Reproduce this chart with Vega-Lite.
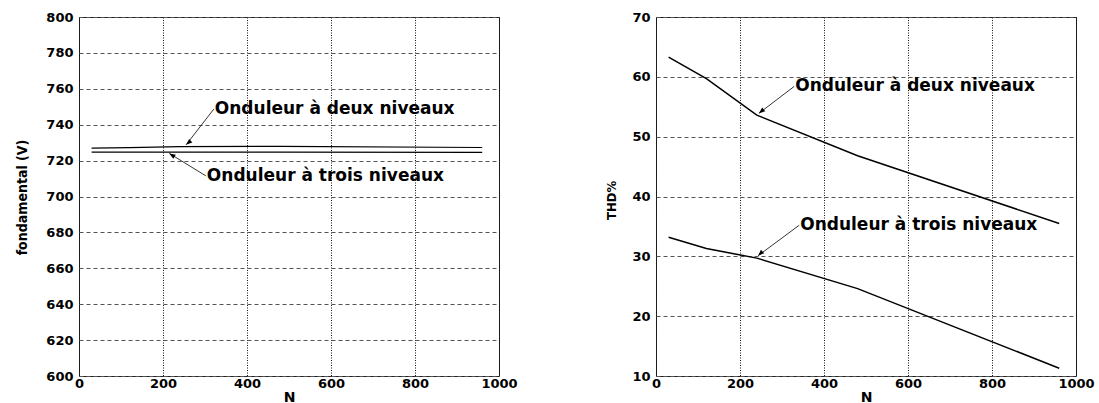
{
  "$schema": "https://vega.github.io/schema/vega-lite/v6.json",
  "background": "white",
  "padding": {"left": 14, "top": 10, "right": 0, "bottom": 0},
  "bounds": "flush",
  "spacing": 157,
  "datasets": {
    "fond": [
      {"serie": "deux", "N": 30, "V": 726.9},
      {"serie": "deux", "N": 120, "V": 727.2},
      {"serie": "deux", "N": 240, "V": 727.8},
      {"serie": "deux", "N": 480, "V": 727.9},
      {"serie": "deux", "N": 960, "V": 727.3},
      {"serie": "trois", "N": 30, "V": 724.7},
      {"serie": "trois", "N": 120, "V": 724.7},
      {"serie": "trois", "N": 240, "V": 724.7},
      {"serie": "trois", "N": 480, "V": 724.7},
      {"serie": "trois", "N": 960, "V": 724.6}
    ],
    "thd": [
      {"serie": "deux", "N": 30, "V": 63.3},
      {"serie": "deux", "N": 120, "V": 59.7},
      {"serie": "deux", "N": 240, "V": 53.6},
      {"serie": "deux", "N": 480, "V": 46.8},
      {"serie": "deux", "N": 960, "V": 35.5},
      {"serie": "trois", "N": 30, "V": 33.2},
      {"serie": "trois", "N": 120, "V": 31.3},
      {"serie": "trois", "N": 240, "V": 29.7},
      {"serie": "trois", "N": 480, "V": 24.6},
      {"serie": "trois", "N": 960, "V": 11.3}
    ],
    "annL": [
      {"id": "deux", "label": "Onduleur à deux niveaux", "N": 321, "V": 748.7, "N2": 255, "V2": 728.8},
      {"id": "trois", "label": "Onduleur à trois niveaux", "N": 302, "V": 711.5, "N2": 215, "V2": 724.0}
    ],
    "annR": [
      {"id": "deux", "label": "Onduleur à deux niveaux", "N": 329, "V": 58.4, "N2": 245, "V2": 53.9},
      {"id": "trois", "label": "Onduleur à trois niveaux", "N": 341, "V": 35.2, "N2": 243, "V2": 30.1}
    ]
  },
  "config": {
    "view": {"stroke": "#222", "strokeWidth": 1},
    "axis": {
      "labelFont": "DejaVu Sans",
      "labelFontWeight": "bold",
      "labelFontSize": 13,
      "labelColor": "black",
      "labelOverlap": false,
      "labelFlush": false,
      "labelBound": false,
      "ticks": false,
      "domain": false,
      "titleColor": "black",
      "titleFontWeight": "bold"
    },
    "axisX": {
      "labelPadding": 1,
      "titleFont": "DejaVu Sans",
      "titleFontSize": 14,
      "titlePadding": 0,
      "gridColor": "#111",
      "gridDash": [1, 1.5],
      "gridOpacity": 1,
      "gridWidth": 1,
      "format": "d"
    },
    "axisY": {
      "labelPadding": 6,
      "titleFont": "DejaVu Sans Condensed, Liberation Sans",
      "titleBaseline": "middle",
      "titleAlign": "center",
      "gridColor": "#555",
      "gridDash": [4, 3],
      "gridOpacity": 1,
      "gridWidth": 1
    }
  },
  "hconcat": [
    {
      "width": 420,
      "height": 359,
      "layer": [
        {
          "data": {"name": "fond"},
          "mark": {"type": "line", "color": "black", "strokeWidth": 1.2},
          "encoding": {
            "x": {"field": "N", "type": "quantitative", "scale": {"domain": [0, 1000], "nice": false},
                  "axis": {"title": "N", "values": [0, 200, 400, 600, 800, 1000], "tickCount": 6}},
            "y": {"field": "V", "type": "quantitative", "scale": {"domain": [600, 800], "nice": false, "zero": false},
                  "axis": {"title": "fondamental (V)", "titleFontSize": 14, "values": [600, 620, 640, 660, 680, 700, 720, 740, 760, 780, 800], "tickCount": 11, "titleX": -57, "titleY": 180}},
            "detail": {"field": "serie"}
          }
        },
        {
          "data": {"name": "annL"},
          "mark": {"type": "rule", "color": "black", "strokeWidth": 0.8},
          "encoding": {
            "x": {"field": "N", "type": "quantitative"},
            "y": {"field": "V", "type": "quantitative"},
            "x2": {"field": "N2"},
            "y2": {"field": "V2"}
          }
        },
        {
          "data": {"name": "annL"},
          "transform": [{"filter": "datum.id == 'deux'"}],
          "mark": {"type": "point", "shape": "M0,0L-0.5,1.3L0.5,1.3Z", "angle": 229, "filled": true, "size": 90, "color": "black", "opacity": 1},
          "encoding": {
            "x": {"field": "N2", "type": "quantitative"},
            "y": {"field": "V2", "type": "quantitative"}
          }
        },
        {
          "data": {"name": "annL"},
          "transform": [{"filter": "datum.id == 'trois'"}],
          "mark": {"type": "point", "shape": "M0,0L-0.5,1.3L0.5,1.3Z", "angle": 302, "filled": true, "size": 90, "color": "black", "opacity": 1},
          "encoding": {
            "x": {"field": "N2", "type": "quantitative"},
            "y": {"field": "V2", "type": "quantitative"}
          }
        },
        {
          "data": {"name": "annL"},
          "mark": {"type": "text", "align": "left", "baseline": "middle", "dx": 1, "font": "DejaVu Sans", "fontWeight": "bold", "fontSize": 17, "color": "black"},
          "encoding": {
            "x": {"field": "N", "type": "quantitative"},
            "y": {"field": "V", "type": "quantitative"},
            "text": {"field": "label"}
          }
        }
      ]
    },
    {
      "width": 420,
      "height": 359,
      "layer": [
        {
          "data": {"name": "thd"},
          "mark": {"type": "line", "color": "black", "strokeWidth": 1.5},
          "encoding": {
            "x": {"field": "N", "type": "quantitative", "scale": {"domain": [0, 1000], "nice": false},
                  "axis": {"title": "N", "values": [0, 200, 400, 600, 800, 1000], "tickCount": 6}},
            "y": {"field": "V", "type": "quantitative", "scale": {"domain": [10, 70], "nice": false, "zero": false},
                  "axis": {"title": "THD%", "titleFontSize": 13, "values": [10, 20, 30, 40, 50, 60, 70], "tickCount": 7, "titleX": -45, "titleY": 183}},
            "detail": {"field": "serie"}
          }
        },
        {
          "data": {"name": "annR"},
          "mark": {"type": "rule", "color": "black", "strokeWidth": 0.8},
          "encoding": {
            "x": {"field": "N", "type": "quantitative"},
            "y": {"field": "V", "type": "quantitative"},
            "x2": {"field": "N2"},
            "y2": {"field": "V2"}
          }
        },
        {
          "data": {"name": "annR"},
          "transform": [{"filter": "datum.id == 'deux'"}],
          "mark": {"type": "point", "shape": "M0,0L-0.5,1.3L0.5,1.3Z", "angle": 231, "filled": true, "size": 90, "color": "black", "opacity": 1},
          "encoding": {
            "x": {"field": "N2", "type": "quantitative"},
            "y": {"field": "V2", "type": "quantitative"}
          }
        },
        {
          "data": {"name": "annR"},
          "transform": [{"filter": "datum.id == 'trois'"}],
          "mark": {"type": "point", "shape": "M0,0L-0.5,1.3L0.5,1.3Z", "angle": 227, "filled": true, "size": 90, "color": "black", "opacity": 1},
          "encoding": {
            "x": {"field": "N2", "type": "quantitative"},
            "y": {"field": "V2", "type": "quantitative"}
          }
        },
        {
          "data": {"name": "annR"},
          "mark": {"type": "text", "align": "left", "baseline": "middle", "dx": 1, "font": "DejaVu Sans", "fontWeight": "bold", "fontSize": 17, "color": "black"},
          "encoding": {
            "x": {"field": "N", "type": "quantitative"},
            "y": {"field": "V", "type": "quantitative"},
            "text": {"field": "label"}
          }
        }
      ]
    }
  ]
}
